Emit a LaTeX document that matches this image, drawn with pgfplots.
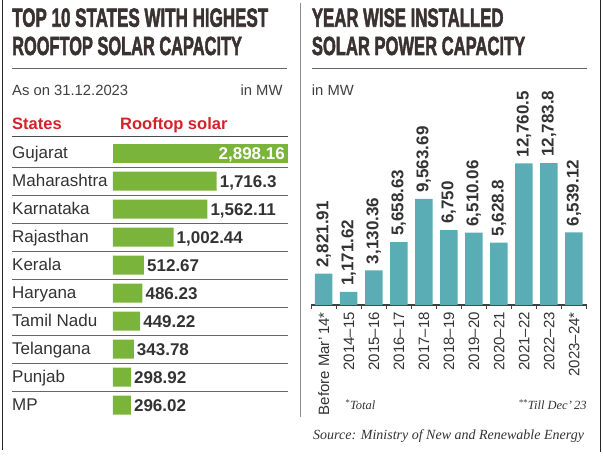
\documentclass[border=0pt]{standalone}
\usepackage{pgfplots}
\pgfplotsset{compat=1.18}
\usepackage{pgfplotstable}
\usepackage{graphicx}
\usepackage{fontspec}
\setmainfont{Liberation Sans}
\newfontfamily\srcfont{Liberation Serif}
\newfontfamily\titlefont{Liberation Sans}[BoldFeatures={FakeBold=2.5}]

\definecolor{barGreen}{HTML}{7BB43A}
\definecolor{barTeal}{HTML}{5AADB4}
\definecolor{hdrRed}{HTML}{D1232A}
\definecolor{txt}{HTML}{333333}
\definecolor{ttl}{HTML}{3A3131}
\definecolor{rulec}{HTML}{666666}

\pgfplotstableread{
y val lab
0 2898.16 2,898.16
}\gujarat

\pgfplotstableread{
y val lab
1 1716.3 1,716.3
2 1562.11 1,562.11
3 1002.44 1,002.44
4 512.67 512.67
5 486.23 486.23
6 449.22 449.22
7 343.78 343.78
8 298.92 298.92
9 296.02 296.02
}\states

\pgfplotstableread{
x val lab
0 2821.91 2,821.91
1 1171.62 1,171.62
2 3130.36 3,130.36
3 5658.63 5,658.63
4 9563.69 9,563.69
5 6750 6,750
6 6510.06 6,510.06
7 5628.8 5,628.8
8 12760.5 12,760.5
9 12783.8 12,783.8
10 6539.12 6,539.12
}\years

\begin{document}
\begin{tikzpicture}
\path[use as bounding box] (0,0) rectangle (603pt,461pt);
% frame lines
\draw[line width=1pt, black!85] (2pt,461pt) -- (2pt,11pt);
\draw[line width=1pt, black!85] (600pt,461pt) -- (600pt,9pt);
\draw[line width=1pt, black!45] (300pt,458pt) -- (300pt,44pt);

% titles
\node[anchor=base west, inner sep=0pt, text=ttl] at (12pt,434.3pt) {\resizebox{256pt}{18.3pt}{\titlefont\bfseries TOP 10 STATES WITH HIGHEST}};
\node[anchor=base west, inner sep=0pt, text=ttl] at (12pt,406pt) {\resizebox{229.7pt}{18.3pt}{\titlefont\bfseries ROOFTOP SOLAR CAPACITY}};
\node[anchor=base west, inner sep=0pt, text=ttl] at (311.7pt,434.3pt) {\resizebox{191.6pt}{18.3pt}{\titlefont\bfseries YEAR WISE INSTALLED}};
\node[anchor=base west, inner sep=0pt, text=ttl] at (311.7pt,406pt) {\resizebox{213.3pt}{18.3pt}{\titlefont\bfseries SOLAR POWER CAPACITY}};

% rules
\draw[rulec, line width=0.9pt] (12pt,392.7pt) -- (287pt,392.7pt);
\draw[rulec, line width=0.9pt] (312pt,392.7pt) -- (587pt,392.7pt);
\draw[black!70, line width=1pt] (12pt,324.5pt) -- (288pt,324.5pt);
\foreach \yy in {294,266,238,210,182,154,126,98,70}
  \draw[rulec, line width=0.8pt] (12pt,\yy pt) -- (288pt,\yy pt);

% sub headers
\node[anchor=base west, inner sep=0pt, text=black!75, font=\fontsize{14.8}{14.8}\selectfont] at (12pt,365pt) {As on 31.12.2023};
\node[anchor=base east, inner sep=0pt, text=black!75, font=\fontsize{14.8}{14.8}\selectfont] at (282.7pt,365pt) {in MW};
\node[anchor=base west, inner sep=0pt, text=black!75, font=\fontsize{14.8}{14.8}\selectfont] at (311.7pt,365pt) {in MW};
\node[anchor=base west, inner sep=0pt, text=hdrRed, font=\bfseries\fontsize{16.5}{16.5}\selectfont] at (12pt,331pt) {States};
\node[anchor=base west, inner sep=0pt, text=hdrRed, font=\bfseries\fontsize{16.5}{16.5}\selectfont] at (120pt,331pt) {Rooftop solar};

% footnotes
\node[anchor=base west, inner sep=0pt, text=txt, font=\srcfont\itshape\fontsize{12.5}{12.5}\selectfont] at (345pt,51.3pt) {\textsuperscript{*}Total};
\node[anchor=base east, inner sep=0pt, text=txt, font=\srcfont\itshape\fontsize{12.5}{12.5}\selectfont] at (586.7pt,51.3pt) {\textsuperscript{**}Till Dec’\,23};
\node[anchor=base west, inner sep=0pt, text=txt, font=\srcfont\itshape\fontsize{14}{14}\selectfont] at (313pt,21pt) {Source: Ministry of New and Renewable Energy};

% left chart
\begin{axis}[
  at={(113pt,42pt)}, anchor=south west,
  scale only axis, width=175pt, height=280pt,
  xbar, bar width=19pt,
  xmin=0, xmax=2898.16, ymin=-0.5, ymax=9.5,
  y dir=reverse, enlargelimits=false,
  axis line style={draw=none}, major tick length=0pt,
  xtick=\empty, ytick={0,...,9},
  yticklabels={Gujarat,Maharashtra,Karnataka,Rajasthan,Kerala,Haryana,Tamil Nadu,Telangana,Punjab,MP},
  yticklabel style={anchor=base west, inner sep=0pt, xshift=-101pt, yshift=-5.3pt, font=\fontsize{17}{17}\selectfont, text=txt},
  clip=false,
  point meta=explicit symbolic,
  nodes near coords,
  every node near coord/.append style={font=\bfseries\fontsize{17}{17}\selectfont, text=txt, anchor=west, inner xsep=3pt, inner ysep=0pt, text height=13pt, text depth=0pt},
]
\addplot[fill=barGreen, draw=none, bar shift=0pt, every node near coord/.append style={text=white, anchor=east}] table[x=val, y=y, meta=lab]{\gujarat};
\addplot[fill=barGreen, draw=none, bar shift=0pt] table[x=val, y=y, meta=lab]{\states};
\end{axis}

% right chart
\begin{axis}[
  at={(311.2pt,156pt)}, anchor=south west,
  scale only axis, width=275.3pt, height=155.4pt,
  ybar, bar width=17.5pt,
  xmin=-0.5, xmax=10.5, ymin=0, ymax=14000, enlargelimits=false,
  axis x line*=bottom, axis y line=none,
  x axis line style={draw=black!75, line width=1.2pt},
  xtick={0,...,10},
  xticklabels={Before Mar’\,14*,2014--15,2015--16,2016--17,2017--18,2018--19,2019--20,2020--21,2021--22,2022--23,2023--24*},
  major tick length=0pt,
  minor xtick={-0.5,0.5,...,10.5},
  minor tick length=4pt,
  tick align=outside,
  minor tick style={draw=black!75, line width=1pt},
  xticklabel style={rotate=90, anchor=east, inner xsep=7pt, inner ysep=0pt, text height=10.7pt, text depth=0pt, font=\fontsize{15}{15}\selectfont, text=txt},
  clip=false,
  point meta=explicit symbolic,
  nodes near coords,
  every node near coord/.append style={rotate=90, anchor=west, font=\bfseries\fontsize{17}{17}\selectfont, text=txt, inner xsep=6pt, inner ysep=0pt, text height=12.2pt, text depth=3pt},
]
\addplot[fill=barTeal, draw=none] table[x=x, y=val, meta=lab]{\years};
\end{axis}
\end{tikzpicture}
\end{document}
